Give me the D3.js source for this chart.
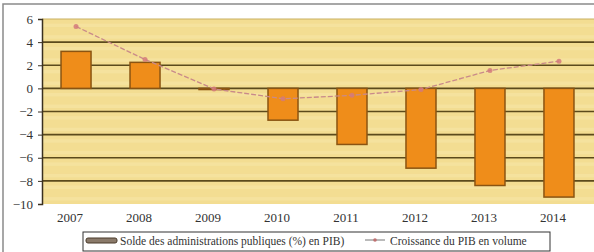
<!DOCTYPE html>
<html><head><meta charset="utf-8">
<script src="https://cdn.jsdelivr.net/npm/d3@7"></script>
<style>body{margin:0;background:#fff}svg{display:block}text{font-family:"Liberation Serif","DejaVu Serif",serif}</style>
</head><body>
<script>
const years = ["2007","2008","2009","2010","2011","2012","2013","2014"];
const solde = [3.2, 2.25, -0.1, -2.75, -4.85, -6.9, -8.4, -9.4];
const croissance = [5.35, 2.5, -0.05, -0.9, -0.6, -0.1, 1.55, 2.35];
const yTicks = [6,4,2,0,-2,-4,-6,-8,-10];
const legendLabels = ["Solde des administrations publiques (%) en PIB)", "Croissance du PIB en volume"];

const W=594,H=252;
const svg=d3.select("body").append("svg").attr("width",W).attr("height",H);

// frame
svg.append("rect").attr("x",3).attr("y",4).attr("width",W).attr("height",H).attr("fill","#fff").attr("stroke","#8a8a8a").attr("stroke-width",1.5);

const x=d3.scaleBand().domain(years).range([41.5,593.5]).paddingInner(0.565).paddingOuter(0.283);
const y=d3.scaleLinear().domain([-10,6]).range([204,19]);

// plot background
svg.append("rect").attr("x",42).attr("y",y(6)).attr("width",552).attr("height",y(-10)-y(6)).attr("fill","#f3dd92");
const stripes=d3.range(-10,6,1);
svg.selectAll(".st").data(stripes).join("rect")
  .attr("x",42).attr("width",552)
  .attr("y",d=>y(d+0.6)).attr("height",y(0)-y(0.3))
  .attr("fill","#f8e8ac").attr("opacity",0.45);

// gridlines
svg.selectAll(".g").data(yTicks.filter(d=>d!==6&&d!==-10)).join("line")
  .attr("x1",42).attr("x2",594).attr("y1",d=>y(d)).attr("y2",d=>y(d))
  .attr("stroke","#5b4a1c").attr("stroke-width",1.6);
svg.append("line").attr("x1",42).attr("x2",594).attr("y1",y(6)).attr("y2",y(6)).attr("stroke","#c9b060").attr("stroke-width",1);

// bars
svg.selectAll(".bar").data(years).join("rect")
  .attr("x",d=>x(d)).attr("width",x.bandwidth())
  .attr("y",(d,i)=>Math.min(y(0),y(solde[i])))
  .attr("height",(d,i)=>Math.abs(y(solde[i])-y(0)))
  .attr("fill","#ef8d1a").attr("stroke","#8a5412").attr("stroke-width",1.5);

// line
const line=d3.line().x((d,i)=>x(years[i])+x.bandwidth()/2).y(d=>y(d));
svg.append("path").datum(croissance).attr("d",line).attr("fill","none")
  .attr("stroke","#c98a8a").attr("stroke-width",1.3).attr("stroke-dasharray","5,2");
svg.selectAll(".pt").data(croissance).join("circle")
  .attr("cx",(d,i)=>x(years[i])+x.bandwidth()/2).attr("cy",d=>y(d)).attr("r",2.5)
  .attr("fill","#d47a7a").attr("opacity",0.85);

// y axis
const ya=svg.append("g").attr("transform","translate(42,0)")
  .call(d3.axisLeft(y).tickValues(yTicks).tickSize(4).tickFormat(d3.format("d")));
ya.select(".domain").attr("stroke","#3a3020").attr("stroke-width",1.5);
ya.selectAll(".tick line").attr("stroke","#3a3020");
ya.selectAll("text").attr("font-size",13).attr("fill","#333").attr("x",-9);

// x labels
svg.selectAll(".xl").data(years).join("text")
  .attr("x",d=>x(d)+x.bandwidth()/2-6).attr("y",222)
  .attr("text-anchor","middle").attr("font-size",13).attr("fill","#333")
  .text(d=>d);

// legend
const lg=svg.append("g");
lg.append("rect").attr("x",83).attr("y",232).attr("width",467).attr("height",19)
  .attr("fill","#fff").attr("stroke","#333").attr("stroke-width",1);
lg.append("rect").attr("x",86).attr("y",238).attr("width",31).attr("height",5).attr("rx",2)
  .attr("fill","#8a7a6a").attr("stroke","#4a3a2a").attr("stroke-width",1);
lg.append("text").attr("x",120).attr("y",244.5).attr("font-size",11.5).attr("fill","#333").text(legendLabels[0]);
lg.append("line").attr("x1",365).attr("x2",385).attr("y1",240).attr("y2",240).attr("stroke","#777").attr("stroke-width",1);
lg.append("circle").attr("cx",375).attr("cy",240).attr("r",1.8).attr("fill","#c07070");
lg.append("text").attr("x",390).attr("y",244.5).attr("font-size",11.5).attr("fill","#333").text(legendLabels[1]);
</script>
</body></html>
